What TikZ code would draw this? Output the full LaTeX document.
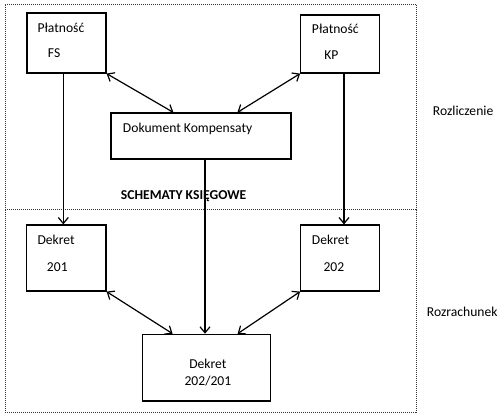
\documentclass[tikz,border=0pt]{standalone}
\usepackage{fontspec}
\setmainfont{Carlito}
\usetikzlibrary{arrows.meta,fit,calc}
\begin{document}
\begin{tikzpicture}[x=0.75pt,y=-0.75pt,
  box/.style={draw, line width=0.9pt, inner sep=0pt, rectangle},
  frame/.style={draw=black!80, dash pattern=on 0.75pt off 0.75pt, line width=0.75pt, inner sep=0pt, rectangle},
  txt/.style={anchor=base west, inner sep=0pt, font=\fontsize{10.2}{12}\selectfont},
  arr/.style={-{Straight Barb[length=4.5pt,width=7.5pt]}, line width=0.9pt},
  biarr/.style={{Straight Barb[length=4.5pt,width=7.5pt]}-{Straight Barb[length=4.5pt,width=7.5pt]}, line width=0.9pt}]
\useasboundingbox (0,0) rectangle (503,419);
% frames
\node[frame, fit={(5,4) (416,209)}] (ftop) {};
\node[frame, fit={(5,209) (416,412)}] (fbot) {};
% boxes
\node[box, fit={(27,13) (106,73)}] (fs) {};
\node[box, fit={(300.7,15) (379.3,73)}] (kp) {};
\node[box, fit={(111,113) (291,159)}] (dk) {};
\node[box, fit={(26.7,225) (106,291)}] (d201) {};
\node[box, fit={(300.7,225) (379.3,291)}] (d202) {};
\node[box, fit={(142.7,334.3) (270.7,401)}] (d3) {};
% texts
\node[txt] (t1) at (37.3,32.3) {Płatność};
\node[txt] (t2) at (47.7,57.3) {FS};
\node[txt] (t3) at (311.7,33.3) {Płatność};
\node[txt] (t4) at (324,59) {KP};
\node[txt] (t5) at (122.7,132.3) {Dokument Kompensaty};
\node[txt, font=\fontsize{10.2}{12}\selectfont\bfseries] (t6) at (120.7,199) {SCHEMATY KSIĘGOWE};
\node[txt] (t7) at (37.3,244.3) {Dekret};
\node[txt] (t8) at (46.7,271) {201};
\node[txt] (t9) at (311.7,244.3) {Dekret};
\node[txt] (t10) at (323.3,271) {202};
\node[txt] (t11) at (189,368.3) {Dekret};
\node[txt] (t12) at (184.3,385.7) {202/201};
\node[txt] (t13) at (432.7,115) {Rozliczenie};
\node[txt] (t14) at (426.7,316) {Rozrachunek};
% connectors
\draw[arr] ($(fs.south)+(-3.2,0)$) coordinate (a1) -- (a1 |- d201.north);
\draw[arr] ($(kp.south)+(4,0)$) coordinate (a2) -- (a2 |- d202.north);
\draw[arr] ($(dk.south)+(4,0)$) coordinate (a3) -- (a3 |- d3.north);
\draw[biarr] (fs.south east) -- ($(dk.north west)+(63,0)$);
\draw[biarr] (kp.south west) -- ($(dk.north west)+(127,0)$);
\draw[biarr] (d201.south east) -- ($(d3.north west)+(30.5,0)$);
\draw[biarr] (d202.south west) -- ($(d3.north west)+(95.5,0)$);
\end{tikzpicture}
\end{document}
